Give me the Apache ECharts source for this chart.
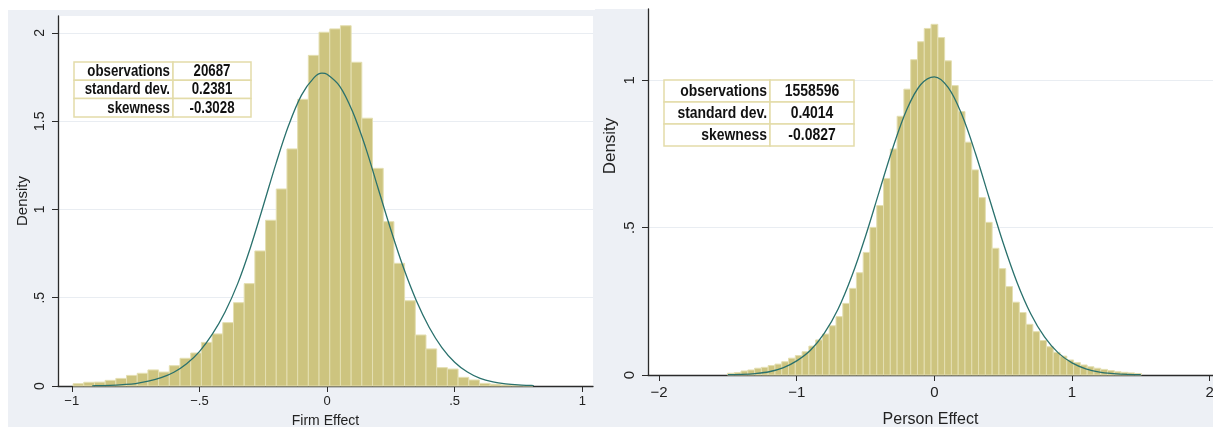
<!DOCTYPE html>
<html><head><meta charset="utf-8">
<script src="https://cdn.jsdelivr.net/npm/echarts@6/dist/echarts.min.js"></script>
<style>html,body{margin:0;padding:0;background:#fff}#c{width:1213px;height:427px}</style>
</head><body><div id="c"></div>
<script>
// ---------------- data ----------------
const firmBinStart = -0.995;
const firmBinWidth = 0.0419;
const firmDensity = [0.013,0.021,0.022,0.032,0.043,0.060,0.072,0.091,0.079,0.115,
  0.157,0.187,0.247,0.295,0.359,0.472,0.580,0.765,0.939,1.116,
  1.343,1.624,1.873,2.004,2.023,2.041,1.834,1.517,1.233,0.931,
  0.695,0.483,0.289,0.210,0.104,0.096,0.049,0.034,0.015,0.010,
  0.006,0.003,0.002];
const firmCurveX = [-0.92,-0.9,-0.85,-0.8,-0.75,-0.7,-0.65,-0.6,-0.55,-0.5,-0.45,-0.4,-0.35,-0.3,-0.25,-0.2,-0.15,-0.1,-0.05,-0.02,0,0.05,0.1,0.15,0.2,0.25,0.3,0.35,0.4,0.45,0.5,0.55,0.6,0.65,0.7,0.75,0.8,0.81];
const firmCurveY = [0.001,0.002,0.004,0.008,0.014,0.027,0.047,0.078,0.126,0.195,0.292,0.418,0.58,0.785,1.02,1.26,1.478,1.648,1.748,1.772,1.766,1.698,1.555,1.356,1.12,0.885,0.668,0.483,0.333,0.218,0.135,0.079,0.043,0.023,0.012,0.006,0.003,0.002];

const personBinStart = -1.503;
const personBinWidth = 0.0493;
const personDensity = [0.006,0.008,0.0136,0.017,0.023,0.026,0.032,0.037,0.045,0.057,
  0.066,0.079,0.098,0.119,0.139,0.167,0.198,0.243,0.294,0.347,
  0.416,0.501,0.575,0.667,0.767,0.878,0.970,1.070,1.131,1.176,
  1.190,1.145,1.066,0.982,0.894,0.790,0.696,0.602,0.518,0.430,
  0.361,0.300,0.247,0.212,0.172,0.147,0.117,0.096,0.077,0.064,
  0.051,0.042,0.034,0.028,0.023,0.019,0.015,0.011,0.009,0.007,0.005];
const personCurveX = [-1.5,-1.4,-1.3,-1.2,-1.1,-1.0,-0.9,-0.8,-0.7,-0.6,-0.5,-0.4,-0.3,-0.2,-0.1,0,0.1,0.2,0.3,0.4,0.5,0.6,0.7,0.8,0.9,1.0,1.1,1.2,1.3,1.4,1.5];
const personCurveY = [0.001,0.002,0.005,0.011,0.024,0.048,0.084,0.141,0.223,0.335,0.471,0.623,0.773,0.901,0.985,1.012,0.976,0.883,0.75,0.598,0.448,0.315,0.208,0.129,0.075,0.041,0.021,0.010,0.005,0.002,0.001];

const firmXTicks = [-1,-0.5,0,0.5,1];
const firmXTickLabels = ['−1','−.5','0','.5','1'];
const firmYTicks = [0,0.5,1,1.5,2];
const firmYTickLabels = ['0','.5','1','1.5','2'];
const personXTicks = [-2,-1,0,1,2];
const personXTickLabels = ['−2','−1','0','1','2'];
const personYTicks = [0,0.5,1];
const personYTickLabels = ['0','.5','1'];

const statNames = ['observations','standard dev.','skewness'];
const firmStats = ['20687','0.2381','-0.3028'];
const personStats = ['1558596','0.4014','-0.0827'];

// ---------------- styles ----------------
const FONT = '"Liberation Sans", Arial, sans-serif';
const BAR_FILL = '#cdc47f';
const BAR_EDGE = '#e4dfb2';
const CURVE = '#2a716d';
const AXIS = '#2b2b2b';
const GRID = '#e9edf2';
const PANEL = '#edf0f5';
const TABLE_EDGE = '#e3dca9';

function labelFrom(ticks, labels) {
  return v => { const i = ticks.findIndex(t => Math.abs(t - v) < 1e-9); return i >= 0 ? labels[i] : ''; };
}
function histData(start, width, dens) {
  return dens.map((d, i) => [start + i * width, start + (i + 1) * width, d]);
}
function histItem(params, api) {
  const p0 = api.coord([api.value(0), api.value(2)]);
  const p1 = api.coord([api.value(1), 0]);
  return { type: 'rect',
    shape: { x: p0[0], y: p0[1], width: p1[0] - p0[0], height: p1[1] - p0[1] },
    style: { fill: BAR_FILL, stroke: BAR_EDGE, lineWidth: 1 } };
}
function table(x0, xMid, x1, y0, rowH, values, fontSize, sx) {
  const els = [];
  const font = 'bold ' + fontSize + 'px ' + FONT;
  for (let r = 0; r < statNames.length; r++) {
    const y = y0 + r * rowH;
    els.push({ type: 'rect', shape: { x: x0, y: y, width: xMid - x0, height: rowH },
      style: { fill: '#fff', stroke: TABLE_EDGE, lineWidth: 1.5 }, z: 100 });
    els.push({ type: 'rect', shape: { x: xMid, y: y, width: x1 - xMid, height: rowH },
      style: { fill: '#fff', stroke: TABLE_EDGE, lineWidth: 1.5 }, z: 100 });
    els.push({ type: 'text', z: 101, x: xMid - 3, y: y + rowH / 2 + 0.5, scaleX: sx,
      style: { text: statNames[r], x: 0, y: 0, textAlign: 'right', textVerticalAlign: 'middle',
        fill: '#111', font: font } });
    els.push({ type: 'text', z: 101, x: (xMid + x1) / 2, y: y + rowH / 2 + 0.5, scaleX: sx,
      style: { text: values[r], x: 0, y: 0, textAlign: 'center', textVerticalAlign: 'middle',
        fill: '#111', font: font } });
  }
  return els;
}

const axisCommon = {
  axisLine: { show: true, onZero: false, lineStyle: { color: AXIS, width: 1.3 } },
  axisTick: { show: true, length: 6, lineStyle: { color: AXIS, width: 1 } },
  nameLocation: 'middle'
};

const chart = echarts.init(document.getElementById('c'), null, { renderer: 'canvas' });
chart.setOption({
  animation: false,
  backgroundColor: '#fff',
  textStyle: { fontFamily: FONT },
  graphic: [
    { type: 'rect', shape: { x: 8, y: 10, width: 587, height: 417 }, style: { fill: PANEL }, z: -10, silent: true },
    { type: 'rect', shape: { x: 595, y: 9, width: 618, height: 418 }, style: { fill: PANEL }, z: -10, silent: true },
    ...table(74, 173, 251, 62, 18.3, firmStats, 16, 0.83),
    ...table(664, 770, 854, 80, 22, personStats, 17, 0.82)
  ],
  grid: [
    { left: 58, top: 16, width: 535, height: 370, show: true, backgroundColor: '#fff', borderWidth: 0,
      containLabel: false, outerBoundsMode: 'none' },
    { left: 648, top: 9, width: 565, height: 366, show: true, backgroundColor: '#fff', borderWidth: 0,
      containLabel: false, outerBoundsMode: 'none' }
  ],
  xAxis: [
    Object.assign({}, axisCommon, { gridIndex: 0, type: 'value', min: -1.054, max: 1.042,
      name: 'Firm Effect', nameGap: 28, nameTextStyle: { fontSize: 14, color: '#222' },
      splitLine: { show: false },
      axisTick: Object.assign({}, axisCommon.axisTick, { customValues: firmXTicks }),
      axisLabel: { customValues: firmXTicks, formatter: labelFrom(firmXTicks, firmXTickLabels),
        fontSize: 13, color: '#222', margin: 9 } }),
    Object.assign({}, axisCommon, { gridIndex: 1, type: 'value', min: -2.08, max: 2.024,
      name: 'Person Effect', nameGap: 37, nameTextStyle: { fontSize: 16, color: '#222' },
      splitLine: { show: false },
      axisTick: Object.assign({}, axisCommon.axisTick, { customValues: personXTicks }),
      axisLabel: { customValues: personXTicks, formatter: labelFrom(personXTicks, personXTickLabels),
        fontSize: 15, color: '#222', margin: 10 } })
  ],
  yAxis: [
    Object.assign({}, axisCommon, { gridIndex: 0, type: 'value', min: 0, max: 2.096, interval: 0.5,
      name: 'Density', nameGap: 28, nameTextStyle: { fontSize: 15, color: '#222' },
      splitLine: { show: true, lineStyle: { color: GRID, width: 1 } },
      axisTick: Object.assign({}, axisCommon.axisTick, { customValues: firmYTicks }),
      axisLabel: { customValues: firmYTicks, formatter: labelFrom(firmYTicks, firmYTickLabels),
        rotate: 90, fontSize: 14, color: '#222', margin: 11 } }),
    Object.assign({}, axisCommon, { gridIndex: 1, type: 'value', min: 0, max: 1.242, interval: 0.5,
      name: 'Density', nameGap: 29, nameTextStyle: { fontSize: 17, color: '#222', padding: [0, 0, 0, 92] },
      splitLine: { show: true, lineStyle: { color: GRID, width: 1 } },
      axisTick: Object.assign({}, axisCommon.axisTick, { customValues: personYTicks }),
      axisLabel: { customValues: personYTicks, formatter: labelFrom(personYTicks, personYTickLabels),
        rotate: 90, fontSize: 15, color: '#222', margin: 11 } })
  ],
  series: [
    { type: 'custom', xAxisIndex: 0, yAxisIndex: 0, renderItem: histItem,
      encode: { x: [0, 1], y: 2 }, data: histData(firmBinStart, firmBinWidth, firmDensity) },
    { type: 'line', xAxisIndex: 0, yAxisIndex: 0, showSymbol: false, smooth: 0.35,
      lineStyle: { color: CURVE, width: 1.3 }, z: 5,
      data: firmCurveX.map((x, i) => [x, firmCurveY[i]]) },
    { type: 'custom', xAxisIndex: 1, yAxisIndex: 1, renderItem: histItem,
      encode: { x: [0, 1], y: 2 }, data: histData(personBinStart, personBinWidth, personDensity) },
    { type: 'line', xAxisIndex: 1, yAxisIndex: 1, showSymbol: false, smooth: 0.35,
      lineStyle: { color: CURVE, width: 1.3 }, z: 5,
      data: personCurveX.map((x, i) => [x, personCurveY[i]]) }
  ]
});
</script></body></html>
